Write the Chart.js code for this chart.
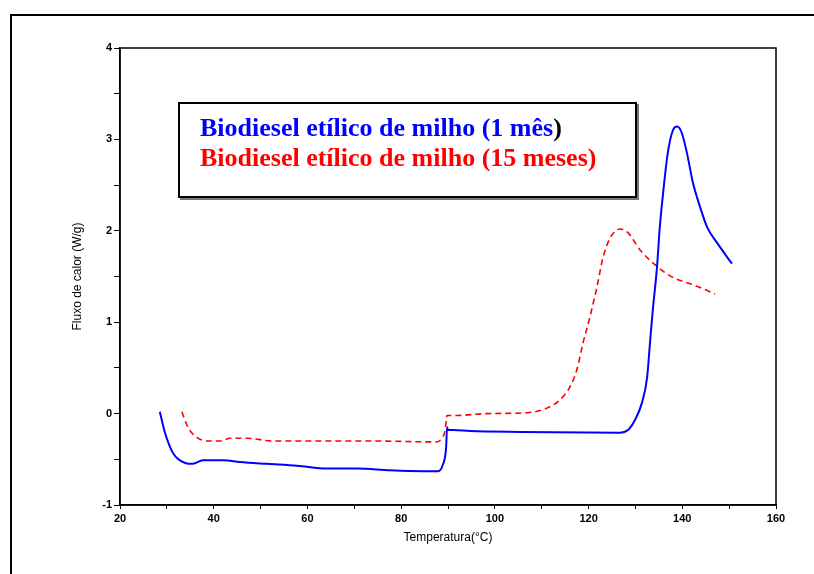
<!DOCTYPE html>
<html>
<head>
<meta charset="utf-8">
<script src="https://cdn.jsdelivr.net/npm/chart.js@4"></script>
<style>
  body { margin: 0; background: #fff; }
  #wrap { position: relative; width: 814px; height: 574px; overflow: hidden; }
  #frame { position: absolute; left: 10px; top: 14px; width: 820px; height: 600px;
           border-top: 2px solid #000; border-left: 2px solid #000; }
  #box { position: absolute; left: 178px; top: 102px; width: 435px; height: 72px;
         border: 2px solid #000; box-shadow: 2px 2px 0 #777; background: #fff;
         padding: 9px 0 11px 20px; font: bold 26px "Liberation Serif", "Times New Roman", serif;
         line-height: 30px; white-space: nowrap; }
  .blue { color: #0000ff; }
  .red { color: #ff0000; }
</style>
</head>
<body>
<div id="wrap">
  <div id="frame"></div>
  <canvas id="dsc-chart" width="814" height="574"></canvas>
  <div id="box">
    <div><span class="blue">Biodiesel etílico de milho (1 mês</span>)</div>
    <div class="red">Biodiesel etílico de milho (15 meses)</div>
  </div>
</div>
<script>
// 1 month sample
var temp1 = [28.5, 29.6, 31.3, 33.9, 35.4, 37.7, 42.0, 45.6, 51.4, 57.8, 64.2, 70.6, 77.6, 84.7,
  87.9, 88.9, 89.6, 89.8, 90.0, 91.1, 94.7, 105.4, 126.7, 128.4, 129.9, 131.4, 132.5, 133.1,
  133.7, 134.6, 135.2, 135.9, 136.9, 138.0, 138.9, 139.9, 141.0, 142.3, 143.8, 145.3, 147.4, 150.6];
var flux1 = [0.02, -0.21, -0.43, -0.54, -0.55, -0.51, -0.51, -0.53, -0.55, -0.57, -0.60, -0.60, -0.62, -0.63,
  -0.63, -0.56, -0.37, -0.15, -0.18, -0.18, -0.19, -0.20, -0.21, -0.18, -0.07, 0.12, 0.40, 0.77,
  1.13, 1.60, 2.04, 2.41, 2.85, 3.10, 3.14, 3.07, 2.85, 2.52, 2.26, 2.04, 1.87, 1.64];

// 15 months sample
var temp15 = [33.2, 34.5, 36.4, 38.6, 41.3, 43.5, 47.1, 52.7, 59.9, 74.0, 87.6, 88.7, 89.4, 89.8,
  91.9, 98.3, 106.9, 111.1, 113.9, 116.0, 117.5, 118.8, 120.3, 121.8, 123.1, 124.6, 126.7,
  128.4, 131.0, 134.6, 138.0, 142.3, 147.0];
var flux15 = [0.02, -0.15, -0.26, -0.30, -0.30, -0.27, -0.27, -0.30, -0.30, -0.30, -0.31, -0.27, -0.18, -0.02,
  -0.02, 0.00, 0.01, 0.06, 0.15, 0.29, 0.48, 0.77, 1.06, 1.39, 1.71, 1.92, 2.02,
  1.98, 1.79, 1.61, 1.49, 1.41, 1.31];

function toPoints(xs, ys) {
  return xs.map(function (x, i) { return {x: x, y: ys[i]}; });
}

// box round the plot area
var plotBorder = {
  id: 'plotBorder',
  afterDraw: function (chart) {
    var a = chart.chartArea, c = chart.ctx;
    c.save();
    c.strokeStyle = '#000';
    c.lineWidth = 1.5;
    c.strokeRect(a.left, a.top, a.right - a.left, a.bottom - a.top);
    c.restore();
  }
};

var tickFont = {family: 'Liberation Sans', size: 11, weight: 'bold'};

var ctx = document.getElementById('dsc-chart');
var dscChart = new Chart(ctx, {
  type: 'line',
  data: {
    datasets: [{
      data: toPoints(temp1, flux1),
      borderColor: '#0000ff',
      borderWidth: 2,
      pointRadius: 0,
      cubicInterpolationMode: 'monotone'
    }, {
      data: toPoints(temp15, flux15),
      borderColor: '#ff0000',
      borderWidth: 1.6,
      borderDash: [6, 4],
      pointRadius: 0,
      cubicInterpolationMode: 'monotone'
    }]
  },
  options: {
    responsive: false,
    animation: false,
    layout: { padding: {left: 0, top: 48, right: 38, bottom: 0} },
    plugins: { legend: { display: false }, tooltip: { enabled: false } },
    scales: {
      x: {
        type: 'linear', min: 20, max: 160,
        afterFit: function (s) { s.height = 69; },
        ticks: {
          stepSize: 10, color: '#000', font: tickFont, padding: 3, maxRotation: 0,
          autoSkip: false,
          callback: function (v) { return v % 20 === 0 ? v : ''; }
        },
        grid: { drawOnChartArea: false, color: '#000', tickLength: 4 },
        border: { color: '#000', width: 1.5 },
        title: { display: true, text: 'Temperatura(°C)', color: '#000',
          font: {family: 'Liberation Sans', size: 12}, padding: {top: 0, bottom: 29} }
      },
      y: {
        min: -1, max: 4,
        afterFit: function (s) { s.width = 120; },
        ticks: {
          stepSize: 0.5, color: '#000', font: tickFont, padding: 2, autoSkip: false,
          callback: function (v) { return Number.isInteger(v) ? v : ''; }
        },
        grid: { drawOnChartArea: false, color: '#000', tickLength: 6 },
        border: { color: '#000', width: 1.5 },
        title: { display: true, text: 'Fluxo de calor (W/g)', color: '#000',
          font: {family: 'Liberation Sans', size: 12}, padding: {top: 70, bottom: 0} }
      }
    }
  },
  plugins: [plotBorder]
});
</script>
</body>
</html>
